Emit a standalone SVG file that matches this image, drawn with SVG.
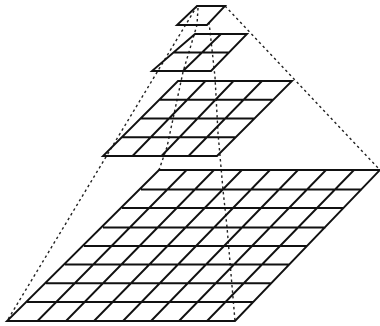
<svg xmlns="http://www.w3.org/2000/svg" width="380" height="326" viewBox="0 0 380 326">
<style>
.g{fill:none;stroke:#111;stroke-width:1.9}
.d{fill:none;stroke:#222;stroke-width:1.4;stroke-dasharray:2.5 3}
</style>
<rect width="380" height="326" fill="#fff"/>
<g id="connectors">
<path class="d" d="M197 6L7 321"/>
<path class="d" d="M225 6L380 170"/>
<path class="d" d="M198 8L197 25L183 72L167 147L159 170"/>
<path class="d" d="M209 22L215 77L218 133L223 190L227 227L235 321"/>
</g>
<g id="level-top"><path class="g" d="M197 6H225L207 25H177Z"/></g>
<g id="level-2"><path class="g" d="M195 34H247L211 71H152Z M173.500 52.500H229 M221 34L183 71"/></g>
<g id="level-4"><path class="g" d="M178 81H292L217 156H103Z M159.250 99.750H273.250 M140.500 118.500H254.500 M121.750 137.250H235.750 M205.500 81L132.500 156 M233.500 81L161.500 156 M262 81L188.500 156"/></g>
<g id="level-8"><path class="g" d="M159 170H380L235 321H7Z M141 189.500H362 M122 208H344 M103 227.500H325.600 M84 246H307.500 M65 264.500H289.400 M46 283.300H271.300 M27 302H253.100 M186.600 170L37.500 321 M214 170L66 321 M241.900 170L94 321 M270 170L123 321 M298 170L151 321 M326 170L179 321 M354 170L207 321"/></g>
</svg>
